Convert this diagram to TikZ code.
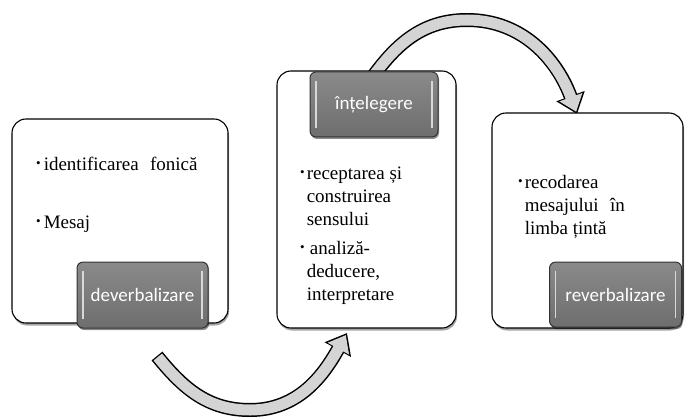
\documentclass[tikz,border=0pt]{standalone}
\usepackage{fontspec}
\setmainfont{Liberation Serif}
\newfontfamily\notefont{Liberation Serif}
\newfontfamily\tagfont{Carlito}
\usetikzlibrary{positioning, arrows.meta, shadows}

\definecolor{tagtop}{HTML}{8A8A8A}
\definecolor{tagbot}{HTML}{6E6E6E}
\definecolor{bevel}{HTML}{D8D8D8}
\definecolor{turnfillc}{HTML}{D4D4D4}

\newcommand{\itemdot}{\raisebox{0.12em}{\fontsize{13bp}{13bp}\selectfont\textbullet}}

\begin{document}
\begin{tikzpicture}[
    x=1bp, y=1bp,
    stage/.style={draw=black, line width=1.1bp, rounded corners=14bp, fill=white,
                  inner sep=0pt,
                  drop shadow={shadow xshift=1bp, shadow yshift=-2.5bp,
                               fill=black, opacity=0.35}},
    tag/.style={draw=black!80, line width=1bp, rounded corners=6bp,
                top color=tagtop, bottom color=tagbot, text=white,
                font=\tagfont\fontsize{19bp}{22bp}\selectfont, inner sep=0pt,
                drop shadow={shadow xshift=1bp, shadow yshift=-2bp,
                             fill=black, opacity=0.45},
                path picture={
                  \draw[bevel, line width=1.3bp]
                    ([xshift=6bp, yshift=9bp]path picture bounding box.south west) --
                    ([xshift=6bp, yshift=-9bp]path picture bounding box.north west);
                  \draw[bevel, line width=1.3bp]
                    ([xshift=-6bp, yshift=9bp]path picture bounding box.south east) --
                    ([xshift=-6bp, yshift=-9bp]path picture bounding box.north east);
                }},
    note/.style={anchor=base west, inner sep=0pt,
                 font=\notefont\fontsize{19bp}{23bp}\selectfont},
    turnout/.style={line width=14bp, draw=black,
                    -{Triangle[length=19bp, width=29bp]}},
    turnfill/.style={line width=11bp, draw=turnfillc,
                     -{Triangle[length=15.5bp, width=23.5bp]},
                     shorten >=2.4bp, shorten <=1.3bp},
]
\useasboundingbox (0,0) rectangle (686,418);

% Curved arrows (behind the stages)
\coordinate (upstart) at (369,336);
\coordinate (uppeak) at (467,398);
\coordinate (upend) at (577,304);
\coordinate (downstart) at (157,62);
\coordinate (downlow) at (250,8);
\coordinate (downend) at (347,85);

\draw[turnout] (upstart) to[out=55, in=180] (uppeak) to[out=0, in=110] (upend);
\draw[turnfill] (upstart) to[out=55, in=180] (uppeak) to[out=0, in=110] (upend);
\draw[turnout] (downstart) to[out=-51, in=180] (downlow) to[out=0, in=241] (downend);
\draw[turnfill] (downstart) to[out=-51, in=180] (downlow) to[out=0, in=241] (downend);

% Stages
\node[stage, minimum width=216bp, minimum height=204bp] (decode) at (120,197) {};
\node[stage, minimum width=179bp, minimum height=257bp] (grasp) at (366.5,218.5) {};
\node[stage, minimum width=191bp, minimum height=215bp] (encode) at (587.5,197.5) {};

% Stage tags
\node[tag, minimum width=131bp, minimum height=66bp, anchor=south east]
     (decodetag) at ([xshift=-20bp, yshift=-5bp]decode.south east) {deverbalizare};
\node[tag, minimum width=128bp, minimum height=65bp, anchor=north]
     (grasptag) at ([xshift=7.5bp, yshift=-1bp]grasp.north) {înțelegere};
\node[tag, minimum width=132bp, minimum height=65bp, anchor=south east]
     (encodetag) at ([xshift=-1.5bp, yshift=1bp]encode.south east) {reverbalizare};

% Stage contents
\node[note] (decodeA) at (36,248)
     {\begin{tabular}[t]{@{}l@{\hspace{3bp}}l@{}}\itemdot & identificarea\hspace{0.6em}fonică\end{tabular}};
\node[note] (decodeB) at (36,190)
     {\begin{tabular}[t]{@{}l@{\hspace{3bp}}l@{}}\itemdot & Mesaj\end{tabular}};
\node[note] (graspA) at (300,239)
     {\begin{tabular}[t]{@{}l@{\hspace{2bp}}l@{}}\itemdot & receptarea și\\ & construirea\\ & sensului\end{tabular}};
\node[note] (graspB) at (300,164)
     {\begin{tabular}[t]{@{}l@{\hspace{2bp}}l@{}}\itemdot & \,analiză-\\ & deducere,\\ & interpretare\end{tabular}};
\node[note] (encodeA) at (518,230)
     {\begin{tabular}[t]{@{}l@{\hspace{2bp}}l@{}}\itemdot & recodarea\\ & mesajului\hspace{0.6em}în\\ & limba țintă\end{tabular}};

\end{tikzpicture}
\end{document}
